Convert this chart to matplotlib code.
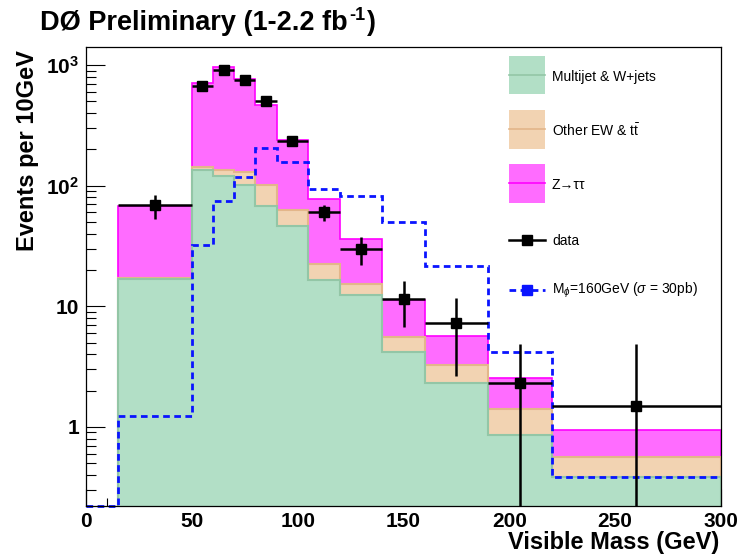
import numpy as np
import matplotlib
matplotlib.use('Agg')
import matplotlib.pyplot as plt
from matplotlib.patches import Rectangle
from matplotlib.ticker import FixedLocator, FixedFormatter, MultipleLocator, LogLocator, NullFormatter

plt.rcParams['font.family'] = ['Liberation Sans', 'DejaVu Sans']
plt.rcParams['mathtext.fontset'] = 'custom'
plt.rcParams['mathtext.rm'] = 'Liberation Sans'
plt.rcParams['mathtext.it'] = 'Liberation Sans:italic'
plt.rcParams['mathtext.bf'] = 'Liberation Sans:bold'
plt.rcParams['mathtext.sf'] = 'Liberation Sans'

# ---------------- data (events per 10 GeV) ----------------
bin_edges = [15, 50, 60, 70, 80, 90, 105, 120, 140, 160, 190, 220, 300]
multijet_wjets = [16.8, 136, 121, 102, 68, 46, 16.6, 12.5, 4.2, 2.3, 0.86, 0.387]
other_ew_ttbar = [0.5, 7, 13, 27, 34, 17, 5.9, 2.9, 1.35, 0.93, 0.56, 0.173]
z_tautau = [50, 568, 832, 639, 368, 175, 55.5, 20.6, 5.75, 2.47, 1.12, 0.384]
data_counts = [69, 675, 918, 758, 507, 233, 60, 30, 11.5, 7.3, 2.33, 1.5]
data_err_low = [16, 25, 30, 28, 22, 15, 9.4, 8, 4.8, 4.65, 2.33, 1.5]
data_err_high = [15, 25, 30, 28, 22, 15, 9, 7.5, 4.8, 4.5, 2.57, 3.4]
signal_edges = [0, 15, 50, 60, 70, 80, 90, 105, 120, 140, 160, 190, 220, 300]
signal_m160 = [0, 1.24, 32.4, 74.7, 119, 206, 156, 94, 82.6, 50, 21.4, 4.2, 0.387]

x_ticks = [0, 50, 100, 150, 200, 250, 300]
y_ticks = [1, 10, 100, 1000]
y_tick_labels = ['1', '10', r'$\mathbf{10^{2}}$', r'$\mathbf{10^{3}}$']

legend_labels = ['Multijet & W+jets', r'Other EW & t$\bar{\mathrm{t}}$', 'Z\u2192\u03c4\u03c4', 'data',
                 r'M$_{\phi}$=160GeV ($\sigma$ = 30pb)']
title_main = 'D\u00d8 Preliminary (1-2.2 fb'
title_sup = '-1'
title_end = ')'

# ---------------- style ----------------
C_GREEN, E_GREEN = '#b2dfc6', '#93c6a6'
C_TAN, E_TAN = '#f2d3b2', '#e3b68a'
C_MAG, E_MAG = '#ff6cff', '#ff00ff'
C_BLUE = '#0a14ff'

W, H = 742, 557
fig = plt.figure(figsize=(W / 100, H / 100), dpi=100)
ax_l, ax_r, ax_t, ax_b = 86, 721, 46.7, 506
ax = fig.add_axes([ax_l / W, 1 - ax_b / H, (ax_r - ax_l) / W, (ax_b - ax_t) / H])
ax.set_yscale('log')
ymin = 10 ** (-(ax_b - 427) / 120.5)
ymax = 10 ** (3 + (65 - ax_t) / 120.5)
ax.set_ylim(ymin, ymax)
ax.set_xlim(0, 300)

edges = np.array(bin_edges, dtype=float)
mj = np.array(multijet_wjets)
ew = np.array(other_ew_ttbar)
zt = np.array(z_tautau)
mid = mj + ew
tot = mid + zt

ax.stairs(tot, edges, baseline=ymin, fill=True, facecolor=C_MAG, edgecolor=E_MAG, lw=1.2, zorder=2)
ax.stairs(mid, edges, baseline=ymin, fill=True, facecolor=C_TAN, edgecolor=E_TAN, lw=1.5, zorder=3)
ax.stairs(mj, edges, baseline=ymin, fill=True, facecolor=C_GREEN, edgecolor=E_GREEN, lw=1.5, zorder=4)

sig = np.clip(np.array(signal_m160, dtype=float), ymin, None)
ax.stairs(sig, np.array(signal_edges, dtype=float), baseline=None, color=C_BLUE, lw=2.0,
          linestyle=(0, (2.4, 1.6)), zorder=5, clip_on=False)

centers = 0.5 * (edges[1:] + edges[:-1])
half = 0.5 * np.diff(edges)
d = np.array(data_counts)
lo = np.minimum(np.array(data_err_low), d * 0.9999)
ax.errorbar(centers, d, xerr=half, yerr=[lo, data_err_high], fmt='s', color='black',
            ms=7, elinewidth=1.8, capsize=0, zorder=6)

# ticks
ax.xaxis.set_major_locator(FixedLocator(x_ticks))
ax.xaxis.set_minor_locator(MultipleLocator(10))
ax.yaxis.set_major_locator(FixedLocator(y_ticks))
ax.yaxis.set_major_formatter(FixedFormatter(y_tick_labels))
ax.yaxis.set_minor_locator(LogLocator(base=10, subs=np.arange(2, 10)))
ax.yaxis.set_minor_formatter(NullFormatter())
ax.tick_params(which='both', direction='in', top=False, right=False, width=0.8)
ax.tick_params(axis='y', which='major', length=13.5, pad=5)
ax.tick_params(axis='y', which='minor', length=7)
ax.tick_params(axis='x', which='major', length=12, pad=4)
ax.tick_params(axis='x', which='minor', length=6)
for lab in ax.get_xticklabels() + ax.get_yticklabels():
    lab.set_fontsize(15)
    lab.set_fontweight('bold')
for s in ax.spines.values():
    s.set_linewidth(0.9)
    s.set_zorder(10)

# overlay in pixel coordinates
ov = fig.add_axes([0, 0, 1, 1])
ov.set_xlim(0, W)
ov.set_ylim(H, 0)
ov.axis('off')

# title in pieces so the superscript uses a plain hyphen
t1 = ov.text(40, 30, title_main, fontsize=19.5, fontweight='bold', ha='left', va='baseline')
fig.canvas.draw()
r = fig.canvas.get_renderer()
x1 = ov.transData.inverted().transform(t1.get_window_extent(r).get_points())[1, 0]
t2 = ov.text(x1 + 2, 20, title_sup, fontsize=13, fontweight='bold', ha='left', va='baseline')
fig.canvas.draw()
x2 = ov.transData.inverted().transform(t2.get_window_extent(r).get_points())[1, 0]
ov.text(x2 + 1, 30, title_end, fontsize=19.5, fontweight='bold', ha='left', va='baseline')

ov.text(28, 50, 'Events per 10GeV', fontsize=17, fontweight='bold', rotation=90,
        ha='center', va='top')
ov.text(719, 549, 'Visible Mass (GeV)', fontsize=17, fontweight='bold', ha='right', va='baseline')

# legend
bx0, bw = 509, 36
boxes = [(56, 94, C_GREEN, E_GREEN), (110, 148.7, C_TAN, E_TAN), (164, 202.7, C_MAG, E_MAG)]
for i, (y0, y1, fc, ec) in enumerate(boxes):
    ov.add_patch(Rectangle((bx0, y0), bw, y1 - y0, facecolor=fc, edgecolor='none'))
    ym = 0.5 * (y0 + y1)
    ov.plot([bx0, bx0 + bw], [ym, ym], color=ec, lw=1.2)
    ov.text(552, ym + 1.5, legend_labels[i], fontsize=10, ha='left', va='center')
ov.plot([bx0, bx0 + bw], [239.7, 239.7], color='black', lw=1.8)
ov.plot([527], [239.7], marker='s', color='black', ms=7)
ov.text(552, 241, legend_labels[3], fontsize=10, ha='left', va='center')
ov.plot([bx0, bx0 + bw], [290, 290], color=C_BLUE, lw=2.0, linestyle=(0, (2.4, 1.6)))
ov.plot([527], [290], marker='s', color=C_BLUE, ms=7)
ov.text(552, 290, legend_labels[4], fontsize=10, ha='left', va='center')

fig.savefig('out.png', dpi=100)
